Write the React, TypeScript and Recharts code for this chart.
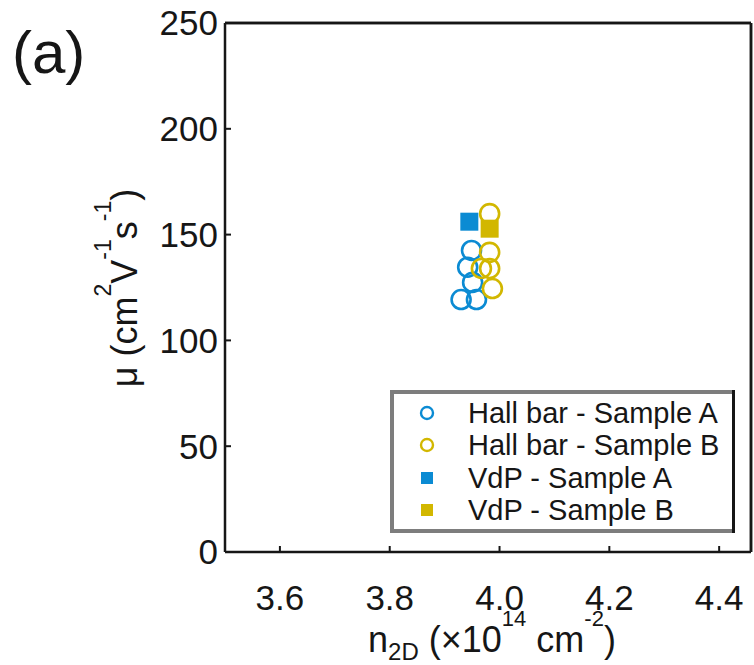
import React from "react";
import { ScatterChart, Scatter, XAxis, YAxis, ReferenceLine } from "recharts";

// n2D (x1e14 cm^-2) and mobility (cm2/Vs)
const hallA_n = [3.949, 3.942, 3.951, 3.93, 3.958];
const hallA_mu = [142.5, 134.6, 127.4, 119.3, 119.3];
const hallB_n = [3.982, 3.982, 3.967, 3.982, 3.987];
const hallB_mu = [159.9, 141.6, 134, 134, 124.5];
const vdpA_n = [3.945];
const vdpA_mu = [156.1];
const vdpB_n = [3.982];
const vdpB_mu = [152.8];

const xTicks = [3.6, 3.8, 4.0, 4.2, 4.4];
const yTicks = [0, 50, 100, 150, 200, 250];
const xDomain = [3.5, 4.458];
const legendNames = ["Hall bar - Sample A", "Hall bar - Sample B", "VdP - Sample A", "VdP - Sample B"];

const BLUE = "#0b8bd3";
const GOLD = "#d2b700";
const INK = "#161616";
const FONT = '"Liberation Sans", Arial, Helvetica, sans-serif';

const zip = (n: number[], mu: number[]) => n.map((v, i) => ({ n: v, mu: mu[i] }));

const ring = (color: string) => (p: any) => (
  <circle cx={p.cx} cy={p.cy} r={9.5} fill="none" stroke={color} strokeWidth={2.6} />
);
const block = (color: string) => (p: any) => (
  <rect x={p.cx - 9} y={p.cy - 9} width={18} height={18} fill={color} />
);

const tickText = { fontSize: 35, fontFamily: FONT, fill: INK };
const tickLine = { stroke: INK, strokeWidth: 2 };
const frame = { stroke: INK, strokeWidth: 2.5 };

const LegendBox = () => {
  const rows = [
    { kind: "ring", color: BLUE },
    { kind: "ring", color: GOLD },
    { kind: "block", color: BLUE },
    { kind: "block", color: GOLD },
  ];
  const base = [33, 65, 98, 130];
  return (
    <g transform="translate(390,390)">
      <rect x={0} y={0} width={345} height={143} fill="#fff" />
      <line x1={0} x2={345} y1={2} y2={2} stroke="#7d7d7d" strokeWidth={4} />
      <line x1={0} x2={345} y1={141} y2={141} stroke="#7d7d7d" strokeWidth={4} />
      <line x1={2} x2={2} y1={0} y2={143} stroke="#7d7d7d" strokeWidth={4} />
      <line x1={343.5} x2={343.5} y1={0} y2={143} stroke={INK} strokeWidth={3} />
      {rows.map((r, i) => (
        <g key={i}>
          {r.kind === "ring" ? (
            <circle cx={37} cy={base[i] - 10} r={6} fill="none" stroke={r.color} strokeWidth={2.4} />
          ) : (
            <rect x={31} y={base[i] - 16} width={12} height={12} fill={r.color} />
          )}
          <text x={78} y={base[i]} fontSize={29} fontFamily={FONT} fill={INK}>
            {legendNames[i]}
          </text>
        </g>
      ))}
    </g>
  );
};

export default function App() {
  return (
    <div style={{ position: "absolute", left: 0, top: 0, width: 754, height: 665, overflow: "hidden", background: "#fff" }}>
      <ScatterChart width={754} height={665} margin={{ top: 22, right: 2, bottom: 0, left: 0 }}>
        <XAxis
          xAxisId="b"
          type="number"
          dataKey="n"
          domain={xDomain}
          allowDataOverflow
          ticks={xTicks}
          tickFormatter={(v: number) => v.toFixed(1)}
          height={113}
          tickSize={-6}
          tickMargin={39}
          tick={tickText}
          tickLine={tickLine}
          axisLine={frame}
        />
        <XAxis
          xAxisId="t"
          orientation="top"
          type="number"
          dataKey="n"
          domain={xDomain}
          allowDataOverflow
          ticks={xTicks}
          height={1}
          tickSize={-6}
          tick={false}
          tickLine={tickLine}
          axisLine={frame}
        />
        <YAxis
          yAxisId="l"
          type="number"
          dataKey="mu"
          domain={[0, 250]}
          ticks={yTicks}
          width={225}
          tickSize={-6}
          tickMargin={13}
          tick={tickText}
          tickLine={tickLine}
          axisLine={frame}
        />
        <YAxis
          yAxisId="r"
          orientation="right"
          type="number"
          dataKey="mu"
          domain={[0, 250]}
          ticks={yTicks}
          width={1}
          tickSize={-6}
          tick={false}
          tickLine={tickLine}
          axisLine={frame}
        />
        <ReferenceLine xAxisId="b" yAxisId="l" y={250} stroke={INK} strokeWidth={2.5} />
        <ReferenceLine xAxisId="b" yAxisId="l" x={xDomain[1]} stroke={INK} strokeWidth={2.5} />
        <Scatter xAxisId="b" yAxisId="l" name={legendNames[0]} data={zip(hallA_n, hallA_mu)} shape={ring(BLUE)} isAnimationActive={false} />
        <Scatter xAxisId="b" yAxisId="l" name={legendNames[1]} data={zip(hallB_n, hallB_mu)} shape={ring(GOLD)} isAnimationActive={false} />
        <Scatter xAxisId="b" yAxisId="l" name={legendNames[2]} data={zip(vdpA_n, vdpA_mu)} shape={block(BLUE)} isAnimationActive={false} />
        <Scatter xAxisId="b" yAxisId="l" name={legendNames[3]} data={zip(vdpB_n, vdpB_mu)} shape={block(GOLD)} isAnimationActive={false} />
      </ScatterChart>
      <svg width={754} height={665} style={{ position: "absolute", left: 0, top: 0, pointerEvents: "none" }}>
        <text x={12} y={73} fontSize={60} fontFamily={FONT} fill={INK}>(a)</text>
        <text transform="rotate(-90)" x={-288} y={137} textAnchor="middle" fontSize={36} fontFamily={FONT} fill={INK}>
          μ (cm<tspan fontSize={23} dy={-26}>2</tspan>
          <tspan dy={26}>V</tspan>
          <tspan fontSize={23} dy={-26}>-1</tspan>
          <tspan dy={26}>s</tspan>
          <tspan fontSize={23} dy={-26}>-1</tspan>
          <tspan dy={26}>)</tspan>
        </text>
        <text x={492} y={652} textAnchor="middle" fontSize={36} fontFamily={FONT} fill={INK}>
          n<tspan fontSize={24} dy={8}>2D</tspan>
          <tspan dy={-8}> (×10</tspan>
          <tspan fontSize={22} dy={-26}>14</tspan>
          <tspan dy={26}> cm</tspan>
          <tspan fontSize={22} dy={-26}>-2</tspan>
          <tspan dy={26}>)</tspan>
        </text>
        <LegendBox />
      </svg>
    </div>
  );
}
